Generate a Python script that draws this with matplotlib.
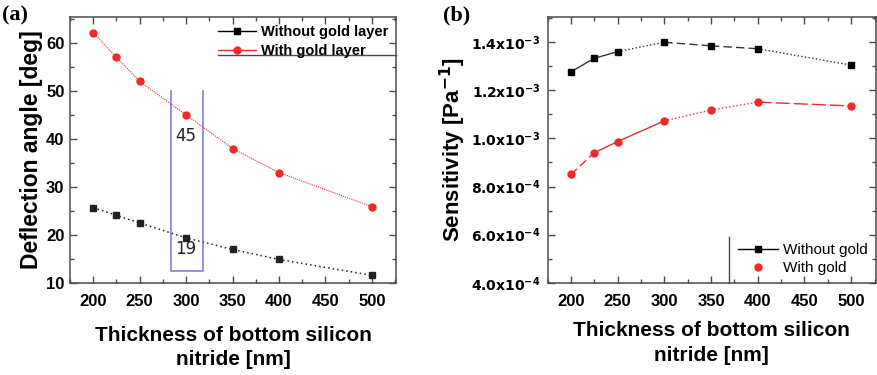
import matplotlib
matplotlib.use("Agg")
import matplotlib.pyplot as plt
from matplotlib.ticker import MultipleLocator, FuncFormatter
from matplotlib.lines import Line2D

# Thickness of bottom silicon nitride [nm]
thickness = [200, 225, 250, 300, 350, 400, 500]

# (a) deflection angle [deg]
angle_no_gold = [25.7, 24.1, 22.5, 19.4, 17.0, 14.9, 11.6]
angle_gold = [62.1, 57.0, 52.0, 45.0, 38.0, 33.0, 25.9]

# (b) sensitivity [Pa^-1]
sens_no_gold = [1.277e-3, 1.333e-3, 1.361e-3, 1.400e-3, 1.385e-3, 1.373e-3, 1.305e-3]
sens_gold = [0.850e-3, 0.940e-3, 0.987e-3, 1.073e-3, 1.118e-3, 1.151e-3, 1.135e-3]

# line style of each segment between consecutive points in (b)
seg_style_no_gold = ["-", "-", ":", (0, (6, 3)), (0, (6, 3)), ":"]
seg_style_gold = [(0, (6, 3)), "-", "-", ":", ":", (0, (10, 3))]

yticks_a = [10, 20, 30, 40, 50, 60]
yticks_b = [4e-4, 6e-4, 8e-4, 1.0e-3, 1.2e-3, 1.4e-3]
xticks = [200, 250, 300, 350, 400, 450, 500]

plt.rcParams["font.family"] = ["Liberation Sans", "DejaVu Sans"]
spine_c = "#4a4a4a"
red = "#ee2a2a"

fig = plt.figure(figsize=(8.77, 3.75), dpi=100)
ax1 = fig.add_axes([70 / 877, 92 / 375, 326 / 877, 266 / 375])
ax2 = fig.add_axes([547.5 / 877, 92.3 / 375, 328 / 877, 265.7 / 375])


def style_axes(ax):
    for s in ax.spines.values():
        s.set_color(spine_c)
        s.set_linewidth(1.1)
    ax.tick_params(which="both", direction="in", top=True, right=True,
                   color=spine_c, width=1.0)
    ax.tick_params(which="major", length=5, labelsize=12, pad=8)
    ax.tick_params(which="minor", length=3)
    ax.set_xlim(175, 526)
    ax.set_xticks(xticks)
    ax.xaxis.set_minor_locator(MultipleLocator(25))
    for lab in ax.get_xticklabels():
        lab.set_fontweight("bold")


# ---------- (a) ----------
ax1.plot(thickness, angle_no_gold, color="#222222", ls=(0, (1, 2)), lw=1.1,
         marker="s", ms=4.3)
ax1.plot(thickness, angle_gold, color=red, ls=(0, (1, 1)), lw=0.8,
         marker="o", ms=5)
style_axes(ax1)
ax1.set_ylim(10, 65.4)
ax1.set_yticks(yticks_a)
ax1.yaxis.set_minor_locator(MultipleLocator(5))
for lab in ax1.get_yticklabels():
    lab.set_fontweight("bold")
ax1.tick_params(axis="y", pad=4)
ax1.set_ylabel("Deflection angle [deg]", fontsize=16.5, fontweight="bold", labelpad=2)
ax1.set_xlabel("Thickness of bottom silicon\nnitride [nm]", fontsize=15,
               fontweight="bold", labelpad=12, linespacing=1.35)

# highlight at 300 nm
box_l, box_r, box_top, box_bot = 283.5, 318, 50, 12.6
ax1.plot([box_l, box_l, box_r, box_r], [box_top, box_bot, box_bot, box_top],
         color="#5a5ae0", lw=1.1, alpha=0.85)
i300 = thickness.index(300)
ax1.text(300, angle_gold[i300] - 4.3, f"{int(angle_gold[i300])}", ha="center",
         va="center", fontsize=12, family="DejaVu Sans", color="#222222")
ax1.text(300, angle_no_gold[i300] - 2.3, f"{int(angle_no_gold[i300])}", ha="center",
         va="center", fontsize=12, family="DejaVu Sans", color="#222222")

handles_a = [
    Line2D([], [], color="black", marker="s", ms=4.3, lw=1.0),
    Line2D([], [], color=red, marker="o", ms=5, lw=1.0),
]
ax1.legend(handles_a, ["Without gold layer", "With gold layer"], loc="upper right",
           frameon=False, prop={"weight": "bold", "size": 10.5},
           handlelength=2.6, handletextpad=0.3, borderaxespad=0.15,
           labelspacing=0.35)
ax1.plot([0.455, 1.0], [0.857, 0.857], transform=ax1.transAxes, color=spine_c,
         lw=1.0, clip_on=False)

# ---------- (b) ----------
for i in range(len(thickness) - 1):
    ax2.plot(thickness[i:i + 2], sens_no_gold[i:i + 2], color="#333333",
             ls=seg_style_no_gold[i], lw=1.0)
    ax2.plot(thickness[i:i + 2], sens_gold[i:i + 2], color=red,
             ls=seg_style_gold[i], lw=1.0)
ax2.plot(thickness, sens_no_gold, ls="none", marker="s", ms=4.3, color="black")
ax2.plot(thickness, sens_gold, ls="none", marker="o", ms=5, color=red)
style_axes(ax2)
ax2.set_ylim(4e-4, 1.505e-3)
ax2.set_yticks(yticks_b)
ax2.yaxis.set_minor_locator(MultipleLocator(1e-4))


def sci_fmt(v, pos):
    exp = -3 if v >= 9.99e-4 else -4
    mant = v / 10 ** exp
    return r"$\mathbf{%.1fx10^{%d}}$" % (mant, exp)


ax2.yaxis.set_major_formatter(FuncFormatter(sci_fmt))
ax2.tick_params(axis="y", labelsize=10, pad=5)
ax2.set_ylabel(r"Sensitivity [Pa$^{\mathbf{-1}}$]", fontsize=16, fontweight="bold",
               labelpad=2)
ax2.set_xlabel("Thickness of bottom silicon\nnitride [nm]", fontsize=15,
               fontweight="bold", labelpad=9, linespacing=1.35)

handles_b = [
    Line2D([], [], color="black", marker="s", ms=4.3, lw=1.0),
    Line2D([], [], color=red, marker="o", ms=5, ls="none"),
]
ax2.legend(handles_b, ["Without gold", "With gold"], loc="lower right", frameon=False,
           prop={"size": 11}, handlelength=2.6, handletextpad=0.35,
           borderaxespad=0.1, labelspacing=0.25)
ax2.plot([0.553, 0.553], [0.0, 0.173], transform=ax2.transAxes, color=spine_c,
         lw=1.0, clip_on=False)

# panel tags
fig.text(0.002, 0.985, "(a)", fontsize=16, fontweight="bold", family="Liberation Serif",
         va="top", ha="left")
fig.text(443 / 877, 0.985, "(b)", fontsize=16, fontweight="bold", family="Liberation Serif",
         va="top", ha="left")

fig.savefig("out.png", dpi=100)
